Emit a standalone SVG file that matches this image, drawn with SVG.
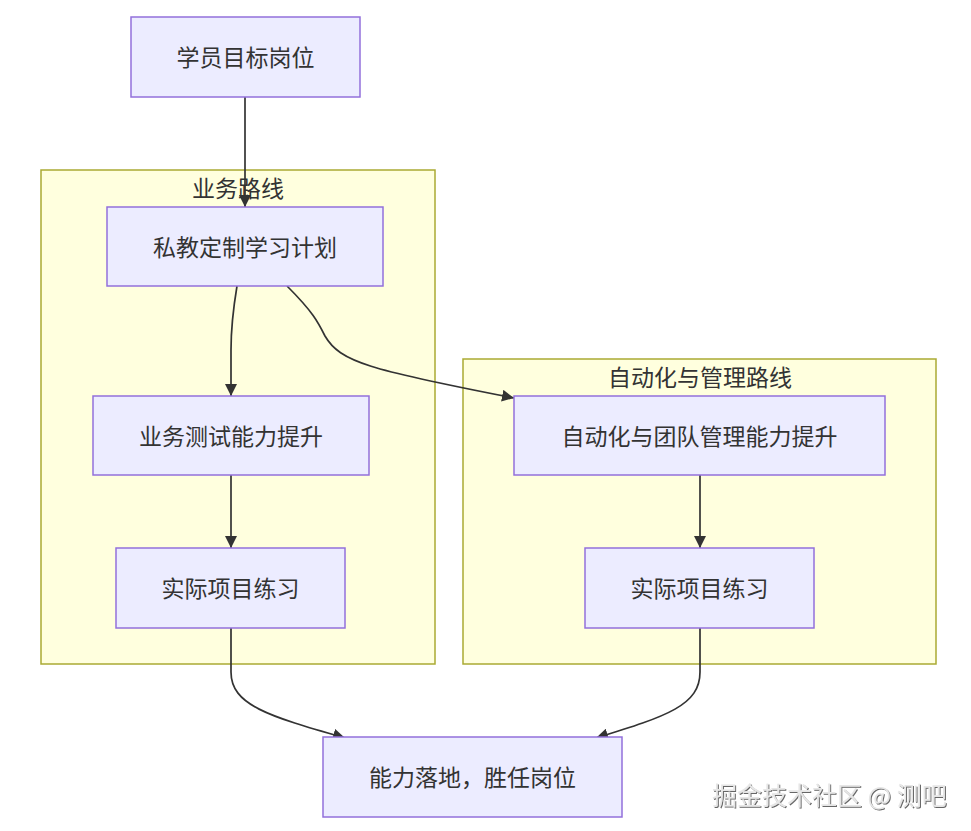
<svg xmlns="http://www.w3.org/2000/svg" width="971" height="831" viewBox="0 0 971 831">
<style>
.cluster rect{fill:#ffffde;stroke:#aaaa33;stroke-width:1.5}
.node rect{fill:#ececff;stroke:#9370db;stroke-width:1.5}
text{font-family:"Noto Sans CJK SC","Liberation Sans",sans-serif;font-size:23px;fill:#333;text-anchor:middle;dominant-baseline:central}
.edges path{fill:none;stroke:#333;stroke-width:1.7}
.wm{font-size:25px;fill:#e6e6e6;text-anchor:start;filter:url(#emb)}
</style>
<defs>
<marker id="arr" markerUnits="userSpaceOnUse" viewBox="0 0 12 12" refX="12" refY="6" markerWidth="12" markerHeight="12" orient="auto">
<path d="M0,0 L12,6 L0,12 z" fill="#333"/>
</marker>
<filter id="emb" x="-5%" y="-20%" width="110%" height="140%">
<feDropShadow dx="1" dy="1" stdDeviation="0.4" flood-color="#555" flood-opacity="0.9"/>
</filter>
</defs>
<g id="cluster-biz" class="cluster">
<rect x="41" y="170" width="394" height="494"/>
<text x="238" y="187">业务路线</text>
</g>
<g id="cluster-auto" class="cluster">
<rect x="463" y="359" width="473" height="305"/>
<text x="700" y="376">自动化与管理路线</text>
</g>
<g id="edges" class="edges">
<path d="M245,97 L245,207" marker-end="url(#arr)"/>
<path d="M237,286 C233,310 231,330 231,350 L231,396" marker-end="url(#arr)"/>
<path d="M287,286 C313,312 318,322 325,336 C340,362 370,370 514,398" marker-end="url(#arr)"/>
<path d="M231,475 L231,548" marker-end="url(#arr)"/>
<path d="M700,475 L700,548" marker-end="url(#arr)"/>
<path d="M231,628 L231,672 C231,705 268,716 345,738" marker-end="url(#arr)"/>
<path d="M700,628 L700,672 C700,705 668,716 596,738" marker-end="url(#arr)"/>
</g>
<g id="node-target" class="node">
<rect x="131" y="17" width="229" height="80"/>
<text x="245.5" y="56">学员目标岗位</text>
</g>
<g id="node-plan" class="node">
<rect x="107" y="207" width="276" height="79"/>
<text x="245" y="245.5">私教定制学习计划</text>
</g>
<g id="node-biztest" class="node">
<rect x="93" y="396" width="276" height="79"/>
<text x="231" y="434.5">业务测试能力提升</text>
</g>
<g id="node-bizproj" class="node">
<rect x="116" y="548" width="229" height="80"/>
<text x="230.5" y="587">实际项目练习</text>
</g>
<g id="node-auto" class="node">
<rect x="514" y="396" width="371" height="79"/>
<text x="699.5" y="434.5">自动化与团队管理能力提升</text>
</g>
<g id="node-autoproj" class="node">
<rect x="585" y="548" width="229" height="80"/>
<text x="699.5" y="587">实际项目练习</text>
</g>
<g id="node-result" class="node">
<rect x="323" y="737" width="299" height="80"/>
<text x="472.5" y="776">能力落地，胜任岗位</text>
</g>
<text class="wm" x="712" y="794">掘金技术社区 @ 测吧</text>
</svg>
